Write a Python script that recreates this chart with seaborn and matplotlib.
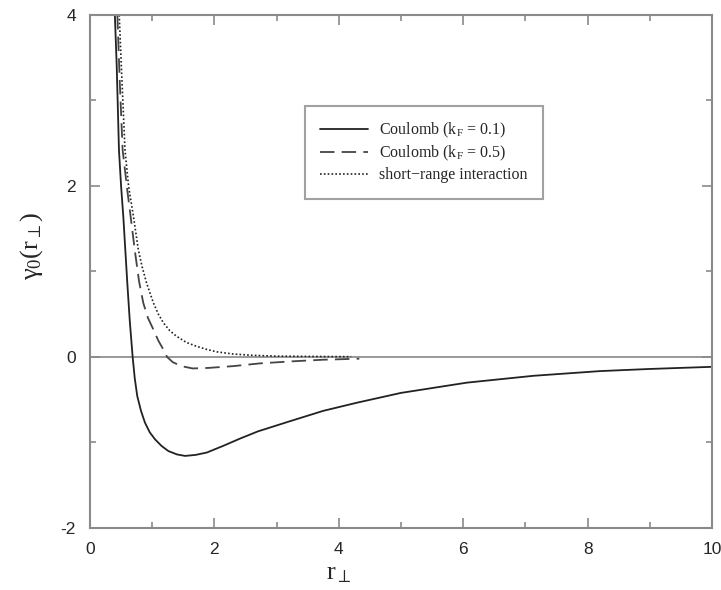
"""
gamma_0(r_perp) for Coulomb and short-range interaction
"""
import matplotlib as mpl
mpl.use('agg')
import matplotlib.pyplot as plt
import seaborn as sns
import numpy as np

# values
r_coul01 = [0.40, 0.43, 0.466, 0.50, 0.536, 0.60, 0.64, 0.686, 0.72, 0.76, 0.82, 0.884,
            0.96, 1.045, 1.15, 1.26, 1.40, 1.53, 1.70, 1.88, 2.14, 2.41, 2.70, 3.22,
            3.75, 4.29, 5.0, 6.06, 7.13, 8.2, 9.0, 10.0]
g_coul01 = [4.0, 3.4, 2.42, 2.0, 1.64, 0.865, 0.42, 0.0, -0.25, -0.457, -0.63, -0.768,
            -0.88, -0.962, -1.04, -1.10, -1.14, -1.157, -1.145, -1.117, -1.04, -0.955, -0.87, -0.75,
            -0.63, -0.535, -0.42, -0.30, -0.22, -0.165, -0.14, -0.115]

r_coul05 = [0.44, 0.48, 0.525, 0.60, 0.654, 0.72, 0.79, 0.857, 0.93, 1.02, 1.10, 1.18,
            1.24, 1.33, 1.47, 1.65, 1.90, 2.30, 2.73, 3.22, 3.75, 4.33]
g_coul05 = [4.0, 3.2, 2.42, 1.95, 1.64, 1.25, 0.88, 0.632, 0.46, 0.32, 0.19, 0.087,
            0.0, -0.06, -0.107, -0.134, -0.128, -0.107, -0.075, -0.052, -0.032, -0.02]

r_short = [0.47, 0.51, 0.563, 0.62, 0.70, 0.777, 0.84, 0.91, 1.02, 1.10, 1.18, 1.28,
           1.39, 1.55, 1.71, 1.87, 2.04, 2.3, 2.6, 3.0, 3.6, 4.2]
g_short = [4.0, 3.3, 2.42, 2.0, 1.64, 1.254, 1.05, 0.865, 0.632, 0.50, 0.40, 0.31,
           0.243, 0.17, 0.126, 0.09, 0.06, 0.035, 0.02, 0.01, 0.006, 0.004]

labels = [r'Coulomb (k$_\mathregular{F}$ = 0.1)',
          r'Coulomb (k$_\mathregular{F}$ = 0.5)',
          'short\u2212range interaction']

sns.set_style('ticks')
plt.rcParams['font.family'] = ['Liberation Sans', 'DejaVu Sans']
plt.rcParams['mathtext.fontset'] = 'custom'
plt.rcParams['mathtext.rm'] = 'Liberation Serif'
plt.rcParams['mathtext.it'] = 'Liberation Serif:italic'
plt.rcParams['mathtext.default'] = 'regular'
plt.rcParams['axes.unicode_minus'] = False

frame = '#8a8a8a'
fig = plt.figure(figsize=(7.21, 5.90), dpi=100)
ax = fig.add_axes([0.1248, 0.1051, 0.8627, 0.8695])

ax.axhline(0, color='#999999', lw=1.4, zorder=0)
sns.lineplot(x=r_coul01, y=g_coul01, ax=ax, color='#222222', lw=1.3,
             label=labels[0], sort=False)
sns.lineplot(x=r_coul05, y=g_coul05, ax=ax, color='#444444', lw=1.3,
             label=labels[1], sort=False)
ax.lines[-1].set_dashes([8, 4])
sns.lineplot(x=r_short, y=g_short, ax=ax, color='#222222', lw=1.2,
             label=labels[2], sort=False)
ax.lines[-1].set_dashes([1, 1.3])

ax.set(xlim=(0, 10), ylim=(-2, 4))
ax.set_xticks(np.arange(0, 11, 2))
ax.set_xticks(np.arange(1, 10, 2), minor=True)
ax.set_yticks([-2, 0, 2, 4])
ax.set_yticks([-1, 1, 3], minor=True)
ax.tick_params(which='both', direction='in', top=True, right=True, color=frame,
               labelsize=12.5, width=1.2, pad=10)
ax.tick_params(which='major', length=7)
ax.tick_params(which='minor', length=4)
for s in ax.spines.values():
    s.set_color(frame)
    s.set_linewidth(1.5)

ax.set_xlabel(r'r$_\perp$', fontsize=19, family='Liberation Serif')
ax.set_ylabel(r'$\gamma_0$(r$_\perp$)', fontsize=19, family='Liberation Serif')
ax.xaxis.set_label_coords(0.40, -0.068)
ax.yaxis.set_label_coords(-0.072, 0.55)

leg = ax.legend(loc='upper left', bbox_to_anchor=(0.346, 0.823), borderaxespad=0,
                fancybox=False, edgecolor=frame, handlelength=3.0, handletextpad=0.7,
                prop={'family': 'Liberation Serif', 'size': 11.5}, borderpad=0.95,
                labelspacing=0.25)
leg.get_frame().set_linewidth(1.5)

fig.savefig('out.png', dpi=100, facecolor='white')
